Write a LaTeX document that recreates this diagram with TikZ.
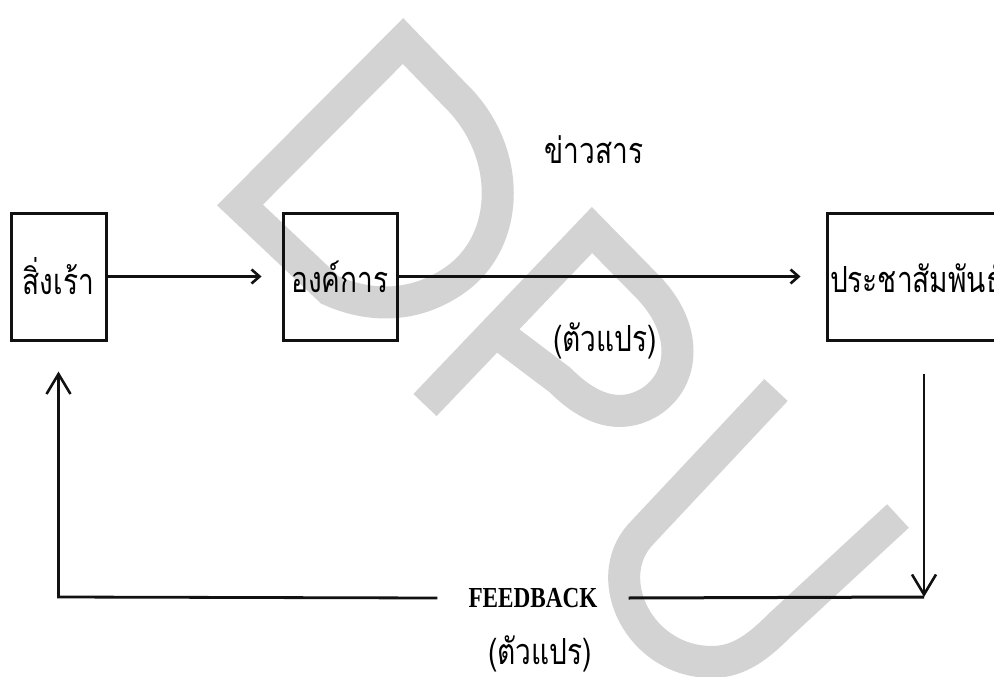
\documentclass[tikz,border=0pt]{standalone}
\usepackage{fontspec}
\usepackage{xcolor}
\usepackage{tikz}
\usetikzlibrary{arrows.meta, positioning}
\newfontfamily\thai[Script=Thai, FakeStretch=0.78]{Loma}
\newfontfamily\titre[FakeStretch=0.8]{Liberation Serif}
\definecolor{filigrane}{HTML}{D3D3D3}
\definecolor{encre}{HTML}{111111}

\begin{document}
\begin{tikzpicture}[x=1pt, y=-1pt,
    boite/.style={draw=encre, line width=3pt, minimum width=95pt, minimum height=127pt,
      inner sep=2pt, font=\thai\fontsize{36}{38}\selectfont},
    etiquette/.style={inner sep=0pt, font=\thai\fontsize{36}{38}\selectfont},
    fleche/.style={draw=encre, line width=3pt, -{Straight Barb[length=8pt, width=14pt, line width=2.6pt]}},
    retour/.style={draw=encre, line width=2.8pt, -{Straight Barb[length=20pt, width=24pt, line width=2.6pt]}},
    trait/.style={draw=encre, line width=3pt},
    lettre/.style={draw=filigrane, line width=32pt}]
    \useasboundingbox (0,0) rectangle (994,677);
    \fill[white] (0,0) rectangle (994,677);
    % Filigrane
    \draw[lettre] (240,205) -- (403,41) -- (455,95)
      .. controls (512,150) and (512,240) .. (455,280)
      .. controls (415,308) and (370,308) .. (330,290) -- cycle;
    \draw[lettre] (425,405) -- (592,230) -- (645,284)
      .. controls (690,328) and (685,380) .. (650,402)
      .. controls (620,420) and (590,410) .. (560,380) -- (495,331);
    \draw[lettre] (776,390) -- (640,535)
      .. controls (600,580) and (640,662) .. (712,662)
      .. controls (740,662) and (760,645) .. (780,625) -- (898,516);
    % Boites
    \node[boite] (stimulus) at (58.5,276.5) {สิ่งเร้า};
    \node[boite, minimum width=114pt] (org) at (340,276.5) {องค์การ};
    \node[boite, minimum width=194pt, text width=188pt, align=left] (pr) at (924,276.5) {ประชาสัมพันธ์};
    \draw[fleche, shorten >=20pt] (stimulus.east) -- (org.west);
    \draw[fleche, shorten >=25pt] (org.east) -- (pr.west);
    \node[etiquette] (info) at (594,150) {ข่าวสาร};
    \node[etiquette] (var1) at (605,341) {(ตัวแปร)};
    % Retour
    \coordinate (basfb) at (0,597);
    \coordinate (coinD) at (pr.south |- basfb);
    \coordinate (coinG) at (stimulus.south |- basfb);
    \node[inner xsep=31pt, inner ysep=0pt, font=\titre\bfseries\fontsize{29}{31}\selectfont] (fb) at (533,598) {FEEDBACK};
    \draw[retour] ([yshift=-32pt]pr.south) -- (coinD);
    \draw[trait] (fb.east) -- (coinD);
    \draw[retour] (fb.west) -- (coinG) -- ([yshift=-30pt]stimulus.south);
    \node[etiquette] (var2) at (540,654) {(ตัวแปร)};
\end{tikzpicture}
\end{document}
